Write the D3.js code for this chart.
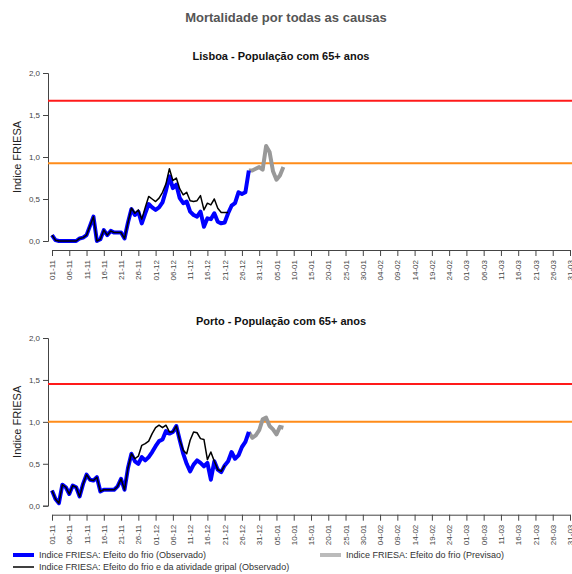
<!DOCTYPE html>
<html>
<head>
<meta charset="utf-8">
<script src="https://cdn.jsdelivr.net/npm/d3@7"></script>
<style>
  body { margin: 0; background: #fff; }
  svg { display: block; font-family: "Liberation Sans", Arial, sans-serif; }
</style>
</head>
<body>
<div id="chart"></div>
<script>
////////////////////////////////////////////////////////////////////////////////
// Data (x = days since 01-11)
var tickLabels = ['01-11','06-11','11-11','16-11','21-11','26-11','01-12','06-12','11-12',
  '16-12','21-12','26-12','31-12','05-01','10-01','15-01','20-01','25-01','30-01','04-02',
  '09-02','14-02','19-02','24-02','01-03','06-03','11-03','16-03','21-03','26-03','31-03'];

// Lisboa
var lisboaFrio = [0.07,0.01,0,0,0,0,0,0,0.03,0.04,0.07,0.18,0.29,0,0.02,0.13,0.07,0.12,0.10,0.10,
  0.10,0.03,0.22,0.38,0.31,0.35,0.21,0.33,0.44,0.40,0.37,0.40,0.46,0.60,0.77,0.63,0.67,0.51,
  0.45,0.47,0.35,0.31,0.29,0.35,0.17,0.27,0.26,0.33,0.23,0.21,0.22,0.33,0.42,0.45,0.58,0.56,
  0.58,0.84];
var lisboaGripe = [0.07,0.01,0,0,0,0,0,0,0.03,0.04,0.07,0.18,0.29,0,0.02,0.13,0.07,0.12,0.10,0.10,
  0.10,0.03,0.22,0.39,0.33,0.37,0.26,0.40,0.53,0.50,0.47,0.51,0.58,0.68,0.86,0.72,0.75,0.62,
  0.55,0.58,0.48,0.47,0.48,0.54,0.37,0.45,0.43,0.50,0.39,0.34,0.34,0.34];
var lisboaPrev = [0.84,0.84,0.86,0.88,0.85,1.13,1.06,0.83,0.73,0.78,0.88];
var lisboaLimites = [1.67, 0.925];

// Porto
var portoFrio = [0.18,0.08,0.03,0.25,0.22,0.14,0.24,0.22,0.11,0.26,0.37,0.31,0.30,0.34,0.17,0.19,
  0.19,0.19,0.19,0.23,0.32,0.19,0.45,0.62,0.53,0.50,0.58,0.54,0.58,0.64,0.71,0.77,0.79,0.89,
  0.86,0.88,0.95,0.78,0.62,0.50,0.41,0.49,0.54,0.51,0.47,0.51,0.31,0.53,0.43,0.40,0.48,0.53,
  0.64,0.56,0.60,0.70,0.76,0.88];
var portoGripe = [0.18,0.08,0.03,0.25,0.22,0.14,0.24,0.22,0.11,0.26,0.37,0.31,0.30,0.34,0.17,0.19,
  0.19,0.19,0.19,0.23,0.32,0.19,0.45,0.62,0.56,0.59,0.72,0.74,0.77,0.86,0.93,0.96,0.93,0.96,
  0.88,0.88,0.95,0.78,0.66,0.62,0.78,0.88,0.87,0.80,0.79,0.55,0.64,0.53,0.43,0.41,0.48];
var portoPrev = [0.88,0.81,0.84,0.90,1.03,1.05,0.95,0.91,0.85,0.94,0.93];
var portoLimites = [1.45, 1.0];

var prevStart = 57;   // first day of the forecast series
var yTicks = [0, 0.5, 1, 1.5, 2];

////////////////////////////////////////////////////////////////////////////////
var W = 572, H = 574;
var svg = d3.select('#chart').append('svg')
  .attr('width', W).attr('height', H);

svg.append('text')
  .attr('x', 286).attr('y', 22)
  .attr('text-anchor', 'middle')
  .style('font-size', '13px').style('font-weight', 'bold')
  .style('fill', '#555')
  .text('Mortalidade por todas as causas');

var fmt = function(v){ return d3.format('.1f')(v).replace('.', ','); };

function draw_panel(top, bottom, title, frio, gripe, prev, limites){
  var x = d3.scaleLinear().domain([0, 150]).range([52, 570]);
  var y = d3.scaleLinear().domain([0, 2]).range([bottom, top]);
  var axisY = bottom + 9;

  // title
  svg.append('text')
    .attr('x', 281).attr('y', top - 13)
    .attr('text-anchor', 'middle')
    .style('font-size', '11px').style('font-weight', 'bold')
    .style('fill', '#111')
    .text(title);

  // y axis
  var yAxis = svg.append('g')
    .attr('transform', 'translate(48,0)')
    .call(d3.axisLeft(y).tickValues(yTicks).tickFormat(fmt).tickSize(5).tickPadding(3));
  yAxis.select('.domain').attr('stroke', '#444');
  yAxis.selectAll('.tick line').attr('stroke', '#444');
  yAxis.selectAll('text').style('font-size', '8px').style('fill', '#444');

  svg.append('text')
    .attr('transform', 'translate(21,' + ((top + bottom) / 2) + ') rotate(-90)')
    .attr('text-anchor', 'middle')
    .style('font-size', '11px').style('fill', '#222')
    .text('Indice FRIESA');

  // x axis
  var xAxis = svg.append('g')
    .attr('transform', 'translate(0,' + axisY + ')')
    .call(d3.axisBottom(x).tickValues(d3.range(0, 151, 5))
      .tickFormat(function(d, i){ return tickLabels[i]; }).tickSize(6).tickSizeOuter(0));
  xAxis.select('.domain').attr('stroke', '#444');
  xAxis.selectAll('.tick line').attr('stroke', '#444');
  xAxis.selectAll('text')
    .attr('transform', 'rotate(-90)')
    .attr('text-anchor', 'end')
    .attr('x', -10).attr('y', 0).attr('dy', '0.32em')
    .style('font-size', '8px').style('fill', '#444');

  // limits
  svg.append('line')
    .attr('x1', 48).attr('x2', W)
    .attr('y1', y(limites[0])).attr('y2', y(limites[0]))
    .attr('stroke', '#ff1a1a').attr('stroke-width', 2);
  svg.append('line')
    .attr('x1', 48).attr('x2', W)
    .attr('y1', y(limites[1])).attr('y2', y(limites[1]))
    .attr('stroke', '#ff8c1a').attr('stroke-width', 2);

  var line = d3.line()
    .x(function(d){ return x(d[0]); })
    .y(function(d){ return y(d[1]); });

  svg.append('path')
    .datum(prev.map(function(v, i){ return [prevStart + i, v]; }))
    .attr('fill', 'none').attr('stroke', '#999')
    .attr('stroke-width', 4).attr('stroke-linejoin', 'round')
    .attr('d', line);
  svg.append('path')
    .datum(frio.map(function(v, i){ return [i, v]; }))
    .attr('fill', 'none').attr('stroke', '#0000ff')
    .attr('stroke-width', 4).attr('stroke-linejoin', 'round')
    .attr('d', line);
  svg.append('path')
    .datum(gripe.map(function(v, i){ return [i, v]; }))
    .attr('fill', 'none').attr('stroke', '#000')
    .attr('stroke-width', 1.5).attr('stroke-linejoin', 'round')
    .attr('d', line);
}

draw_panel(73, 241, 'Lisboa - População com 65+ anos',
  lisboaFrio, lisboaGripe, lisboaPrev, lisboaLimites);
draw_panel(338, 505.7, 'Porto - População com 65+ anos',
  portoFrio, portoGripe, portoPrev, portoLimites);

////////////////////////////////////////////////////////////////////////////////
// Legend
var legend = [
  {x: 13, y: 555, color: '#0000ff', w: 4, label: 'Indice FRIESA: Efeito do frio (Observado)'},
  {x: 13, y: 567, color: '#000', w: 1.5, label: 'Indice FRIESA: Efeito do frio e da atividade gripal (Observado)'},
  {x: 320, y: 555, color: '#bbb', w: 4, label: 'Indice FRIESA: Efeito do frio (Previsao)'}
];
legend.forEach(function(l){
  svg.append('line')
    .attr('x1', l.x).attr('x2', l.x + 21)
    .attr('y1', l.y).attr('y2', l.y)
    .attr('stroke', l.color).attr('stroke-width', l.w);
  svg.append('text')
    .attr('x', l.x + 26).attr('y', l.y).attr('dy', '0.35em')
    .style('font-size', '9px').style('fill', '#333')
    .text(l.label);
});
</script>
</body>
</html>
